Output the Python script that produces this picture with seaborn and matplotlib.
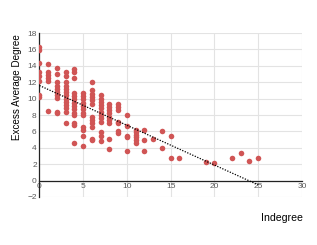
import numpy as np
import pandas as pd
import matplotlib
matplotlib.use('Agg')
import matplotlib.pyplot as plt
import seaborn as sns

sns.set_theme(style='white')
plt.rcParams['font.family'] = ['Liberation Sans Narrow', 'Liberation Sans', 'DejaVu Sans']

# values, grouped by indegree column
cols = {
    0: [16.3, 15.9, 14.3, 13.2, 12.8, 12.1, 10.4, 10.2],
    1: [14.2, 13.2, 12.9, 12.5, 12.2, 8.5],
    2: [13.7, 13.0, 12.0, 11.6, 11.2, 10.8, 10.4, 10.1, 8.4, 8.2],
    3: [13.2, 12.8, 12.0, 11.6, 11.2, 10.8, 10.4, 10.0, 9.6, 9.2, 8.8, 8.4, 7.0],
    4: [13.6, 13.3, 12.5, 10.7, 10.3, 9.9, 9.5, 9.1, 8.7, 8.3, 8.0, 7.0, 6.8, 4.6],
    5: [10.7, 10.3, 9.9, 9.5, 9.1, 8.7, 8.3, 8.0, 6.5, 6.2, 5.4, 4.2],
    6: [12.0, 11.0, 10.6, 10.2, 9.8, 9.4, 7.8, 7.4, 7.0, 6.6, 5.1, 4.9],
    7: [10.4, 10.0, 9.6, 9.2, 8.8, 8.4, 8.0, 7.6, 7.2, 5.9, 5.5, 4.8],
    8: [9.4, 9.0, 8.6, 8.2, 7.8, 7.4, 7.0, 5.1, 3.8],
    9: [9.4, 9.0, 8.6, 7.2, 7.0, 6.1, 5.8],
    10: [8.0, 6.7, 5.5, 5.3, 3.6],
    11: [6.2, 5.9, 5.6, 5.3, 4.9, 4.6],
    12: [6.2, 5.0, 3.6],
    13: [5.1],
    14: [6.0, 4.0],
    15: [5.4, 2.7],
    16: [2.8],
    19: [2.3],
    20: [2.15],
    22: [2.7],
    23: [3.4],
    24: [2.35],
    25: [2.7],
}
indegree = [k for k, v in cols.items() for _ in v]
excess = [y for v in cols.values() for y in v]
df = pd.DataFrame({'Indegree': indegree, 'Excess': excess})

x_ticks = [0, 5, 10, 15, 20, 25, 30]
y_ticks = list(range(-2, 19, 2))

dot_color = '#D05555'
tick_gray = '#595959'
grid_gray = '#E3E3E3'

fig = plt.figure(figsize=(3.17, 2.45), dpi=100)
ax = fig.add_axes([0.1246, 0.196, 0.828, 0.669])

sns.scatterplot(data=df, x='Indegree', y='Excess', color=dot_color, s=16,
                linewidth=0, ax=ax, zorder=3)
sns.regplot(data=df, x='Indegree', y='Excess', scatter=False, ci=None, ax=ax,
            line_kws=dict(color='black', lw=0.9, ls=(0, (1, 1.2)), zorder=4))

ax.set_xlim(0, 30)
ax.set_ylim(-2, 18)
ax.set_xticks(x_ticks)
ax.set_yticks(y_ticks)
ax.grid(True, color=grid_gray, lw=0.8)
ax.set_axisbelow(True)

ax.spines['bottom'].set_position(('data', 0))
ax.spines['bottom'].set_color('#222222')
ax.spines['bottom'].set_linewidth(0.9)
ax.spines['left'].set_color('#222222')
ax.spines['left'].set_linewidth(0.9)
for sp in ['top', 'right']:
    ax.spines[sp].set_visible(False)

ax.tick_params(axis='both', labelsize=6, colors=tick_gray, length=0, pad=2)
ax.set_xlabel('')
ax.set_ylabel('')
fig.text(17 / 317, 1 - 87 / 245, 'Excess Average Degree', fontsize=7.1, rotation=90,
         ha='center', va='center', color='black')
fig.text(303 / 317, 1 - 218 / 245, 'Indegree', fontsize=7.6, ha='right', va='center',
         color='black')

fig.savefig('out.png', dpi=100)
